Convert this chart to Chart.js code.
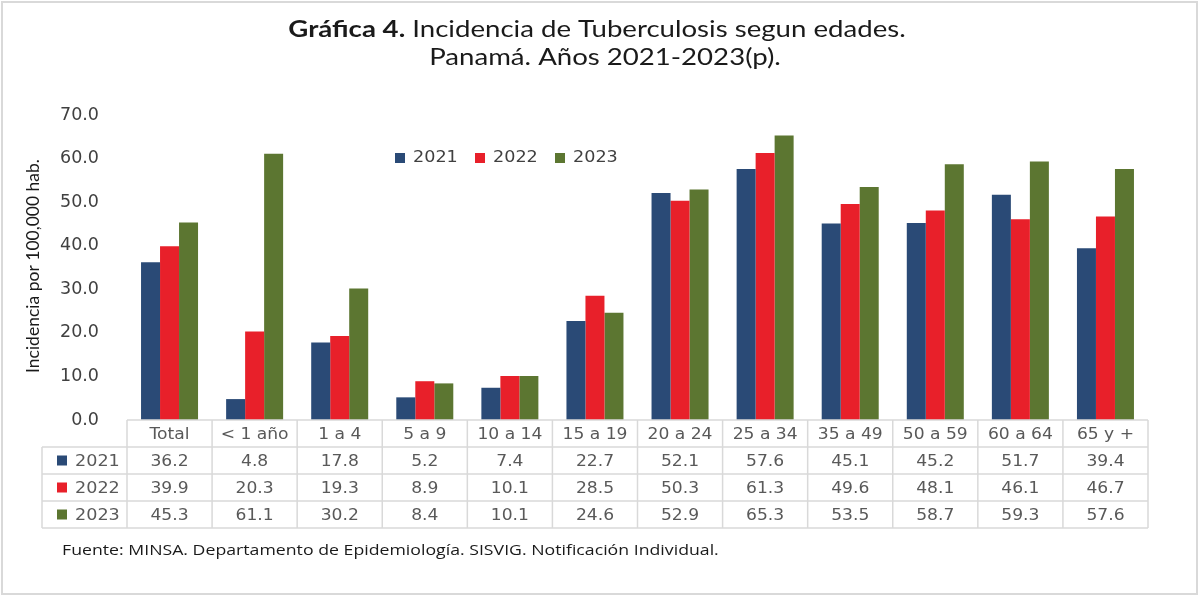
<!DOCTYPE html>
<html>
<head>
<meta charset="utf-8">
<script src="https://cdn.jsdelivr.net/npm/chart.js@4/dist/chart.umd.min.js"></script>
<style>
  html, body { margin: 0; padding: 0; background: #fff; }
  #wrap { width: 1200px; height: 598px; position: relative; }
</style>
</head>
<body>
<div id="wrap"><canvas id="tbChart"></canvas></div>
<script>
const categories = ['Total', '< 1 año', '1 a 4', '5 a 9', '10 a 14', '15 a 19', '20 a 24', '25 a 34', '35 a 49', '50 a 59', '60 a 64', '65 y +'];
const years = ['2021', '2022', '2023'];
const values2021 = [36.2, 4.8, 17.8, 5.2, 7.4, 22.7, 52.1, 57.6, 45.1, 45.2, 51.7, 39.4];
const values2022 = [39.9, 20.3, 19.3, 8.9, 10.1, 28.5, 50.3, 61.3, 49.6, 48.1, 46.1, 46.7];
const values2023 = [45.3, 61.1, 30.2, 8.4, 10.1, 24.6, 52.9, 65.3, 53.5, 58.7, 59.3, 57.6];
const colors = ['#2A4A76', '#E8202A', '#5C7631'];

const seriesValues = [values2021, values2022, values2023];
const verdana = '"DejaVu Sans", Verdana, sans-serif';
const calibri = 'Lato, "Open Sans", sans-serif';

// the original picture is a bit wider than tall, so text gets a horizontal stretch
function stretchText(c, text, x, y, sx, align) {
    const w = c.measureText(text).width * sx;
    let left = x;
    if (align === 'center') left = x - w / 2;
    else if (align === 'right') left = x - w;
    c.save();
    c.textAlign = 'left';
    c.translate(left, y);
    c.scale(sx, 1);
    c.fillText(text, 0, 0);
    c.restore();
    return w;
}

// draws title, axis title, legend, data table, source note and frame
const extrasPlugin = {
    id: 'extras',
    afterDraw(chart) {
        const c = chart.ctx;
        const x = chart.scales.x;
        const area = chart.chartArea;
        c.save();

        // frame
        c.strokeStyle = '#d9d9d9';
        c.lineWidth = 2;
        c.strokeRect(2, 2, 1195, 592);

        // title
        const sxTitle = 1.2;
        c.fillStyle = '#1a1a1a';
        c.textBaseline = 'middle';
        c.font = 'bold 23px ' + calibri;
        const boldPart = 'Gráfica 4.';
        const restPart = ' Incidencia de Tuberculosis segun edades.';
        const wBold = c.measureText(boldPart).width * sxTitle;
        c.font = '23px ' + calibri;
        const wRest = c.measureText(restPart).width * sxTitle;
        const tx = 597 - (wBold + wRest) / 2;
        c.font = 'bold 23px ' + calibri;
        stretchText(c, boldPart, tx, 30, sxTitle, 'left');
        c.font = '23px ' + calibri;
        stretchText(c, restPart, tx + wBold, 30, sxTitle, 'left');
        stretchText(c, 'Panamá. Años 2021-2023(p).', 605, 58, sxTitle, 'center');

        // y axis title
        c.save();
        c.translate(33, 266);
        c.rotate(-Math.PI / 2);
        c.font = '17.5px ' + calibri;
        c.fillStyle = '#1a1a1a';
        c.textAlign = 'center';
        c.fillText('Incidencia por 100,000 hab.', 0, 0);
        c.restore();

        // legend inside plot
        const legendX = [395, 475, 555];
        c.font = '16px ' + verdana;
        years.forEach((y, i) => {
            c.fillStyle = colors[i];
            c.fillRect(legendX[i], 153, 10, 10);
            c.fillStyle = '#404040';
            stretchText(c, y, legendX[i] + 18, 158, 1.1, 'left');
        });

        // data table
        const colW = x.width / categories.length;
        const rowH = 27;
        const top = area.bottom;
        const left = 42;
        c.strokeStyle = '#d9d9d9';
        c.lineWidth = 1.5;
        c.beginPath();
        c.moveTo(area.left, top);
        c.lineTo(area.right, top);
        for (let r = 1; r <= 4; r++) {
            c.moveTo(left, top + r * rowH);
            c.lineTo(area.right, top + r * rowH);
        }
        c.moveTo(left, top + rowH);
        c.lineTo(left, top + 4 * rowH);
        for (let i = 0; i <= categories.length; i++) {
            const px = area.left + i * colW;
            c.moveTo(px, top);
            c.lineTo(px, top + 4 * rowH);
        }
        c.stroke();

        const sxTable = 1.07;
        c.font = '16px ' + verdana;
        c.fillStyle = '#595959';
        categories.forEach((cat, i) => {
            const cx = x.getPixelForValue(i);
            stretchText(c, cat, cx, top + rowH / 2 + 1, sxTable, 'center');
            seriesValues.forEach((vals, s) => {
                stretchText(c, vals[i].toFixed(1), cx, top + (s + 1.5) * rowH + 1, sxTable, 'center');
            });
        });
        years.forEach((y, s) => {
            const cy = top + (s + 1.5) * rowH;
            c.fillStyle = colors[s];
            c.fillRect(57, cy - 5, 10, 10);
            c.fillStyle = '#595959';
            stretchText(c, y, 75, cy + 1, 1.1, 'left');
        });

        // source
        c.font = '15px "Open Sans", sans-serif';
        c.fillStyle = '#1a1a1a';
        stretchText(c, 'Fuente: MINSA. Departamento de Epidemiología. SISVIG. Notificación Individual.', 62, 551, 1.18, 'left');

        c.restore();
    }
};

new Chart(document.getElementById('tbChart'), {
    type: 'bar',
    data: {
        labels: categories,
        datasets: years.map((y, i) => ({
            label: y,
            data: seriesValues[i],
            backgroundColor: colors[i],
            borderWidth: 0,
            barPercentage: 1.0,
            categoryPercentage: 0.67
        }))
    },
    options: {
        responsive: true,
        maintainAspectRatio: false,
        animation: false,
        layout: { padding: { left: 0, top: 115, right: 52, bottom: 178 } },
        plugins: {
            legend: { display: false },
            tooltip: { enabled: false }
        },
        scales: {
            x: {
                grid: { display: false },
                border: { display: false },
                ticks: { display: false },
                afterFit: scale => { scale.height = 0; }
            },
            y: {
                min: 0,
                max: 70,
                grid: { display: false },
                border: { display: false },
                afterFit: scale => { scale.width = 127; },
                ticks: {
                    stepSize: 10,
                    padding: 20,
                    color: '#404040',
                    font: { family: verdana, size: 17.5 },
                    callback: v => v.toFixed(1)
                }
            }
        }
    },
    plugins: [extrasPlugin]
});
</script>
</body>
</html>
